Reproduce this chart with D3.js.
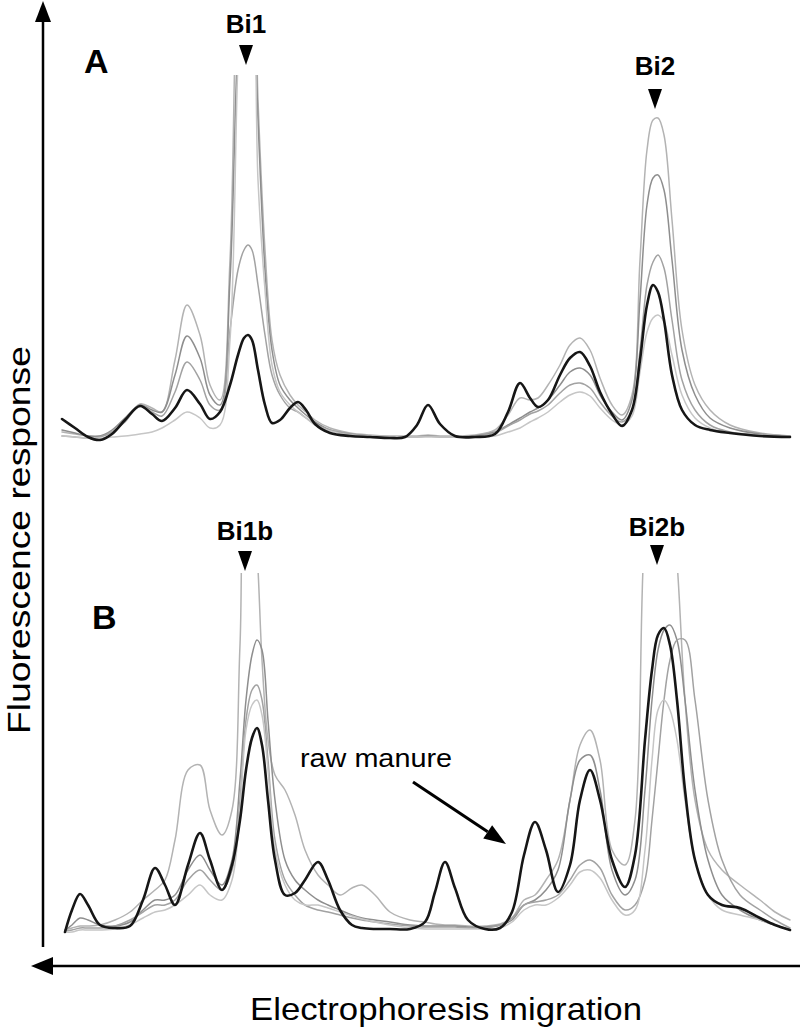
<!DOCTYPE html>
<html lang="en">
<head>
<meta charset="UTF-8">
<title>Electropherograms</title>
<script src="https://d3js.org/d3.v7.min.js" charset="utf-8"></script>
<style>
  body { margin: 0; background: #fff; }
  svg text { font-family: "Liberation Sans", Arial, sans-serif; fill: #000; }
  .trace { fill: none; stroke-linejoin: round; stroke-linecap: round; }
</style>
</head>
<body>
<svg id="chart" width="800" height="1029"></svg>
<script>
// ---- data (migration index / fluorescence, arbitrary units) ----
var xA = [0, 13, 26, 38, 50, 63, 78, 90, 100, 113, 125, 138, 148, 158, 168, 176, 182, 186, 190, 196,
  203, 210, 218, 228, 236, 244, 253, 268, 288, 308, 328, 343, 355, 366, 378, 393, 413, 433, 446, 458,
  468, 476, 486, 498, 508, 518, 528, 538, 550, 560, 570, 578, 585, 591, 596, 602, 610, 620, 633, 648,
  668, 698, 728];
var aBlack = [21, 12, 3, 0, 6, 20, 34, 26, 19, 32, 50, 36, 21, 28, 55, 85, 102, 105, 100, 70,
  35, 17, 20, 32, 38, 30, 16, 7, 4, 3, 2, 3, 15, 35, 16, 4, 3, 6, 28, 57,
  42, 33, 40, 65, 82, 88, 74, 48, 26, 14, 30, 80, 135, 155, 148, 120, 65, 30, 15, 10,
  7, 4, 3];
var aGray1 = [8, 6, 4, 4, 8, 20, 36, 32, 28, 80, 135, 105, 55, 40, 180, 480, 530, 520, 530, 340,
  190, 100, 65, 45, 35, 28, 20, 12, 7, 5, 4, 4, 4, 5, 4, 4, 5, 10, 25, 42,
  40, 42, 55, 75, 95, 102, 90, 62, 35, 25, 45, 180, 290, 320, 322, 305, 220, 110, 55, 30,
  15, 7, 4];
var aGray2 = [10, 7, 4, 4, 10, 22, 35, 30, 28, 65, 104, 82, 45, 35, 160, 400, 470, 450, 470, 320,
  170, 90, 55, 40, 32, 25, 18, 10, 6, 4, 3, 3, 3, 4, 3, 3, 4, 8, 15, 22,
  28, 32, 40, 55, 68, 72, 65, 45, 28, 20, 40, 140, 235, 262, 265, 250, 180, 90, 45, 22,
  12, 6, 4];
var aGray3 = [4, 3, 2, 3, 8, 18, 35, 28, 24, 48, 78, 60, 35, 30, 110, 170, 190, 195, 190, 155,
  105, 65, 45, 32, 28, 22, 16, 10, 6, 4, 3, 3, 3, 4, 3, 3, 4, 7, 14, 20,
  26, 29, 35, 47, 55, 57, 52, 38, 24, 18, 30, 90, 155, 178, 185, 172, 120, 60, 30, 15,
  8, 5, 4];
var aGray4 = [4, 3, 2, 2, 3, 4, 6, 8, 12, 20, 28, 22, 12, 15, 100, 380, 500, 480, 470, 260,
  150, 75, 48, 35, 28, 22, 15, 9, 5, 4, 3, 3, 3, 3, 3, 3, 3, 4, 8, 12,
  18, 22, 28, 38, 45, 48, 44, 32, 20, 15, 24, 68, 108, 122, 125, 118, 85, 45, 22, 12,
  7, 5, 4];

var xB = [3, 10, 18, 26, 38, 53, 68, 81, 93, 103, 113, 126, 138, 148, 160, 170, 178, 184, 190, 195,
  200, 206, 213, 223, 233, 243, 256, 266, 278, 290, 300, 313, 328, 348, 363, 373, 383, 393, 406, 423,
  438, 450, 462, 473, 484, 496, 508, 518, 528, 538, 550, 563, 573, 583, 590, 596, 602, 608, 615, 623,
  633, 646, 660, 678, 698, 713, 728];
var bBlack = [0, 22, 38, 27, 7, 4, 6, 32, 64, 47, 27, 67, 99, 72, 42, 67, 112, 162, 194, 204,
  187, 132, 72, 37, 39, 52, 70, 52, 22, 7, 4, 3, 3, 3, 10, 40, 70, 44, 12, 3,
  4, 20, 77, 110, 82, 40, 67, 132, 162, 132, 72, 45, 77, 192, 262, 297, 304, 287, 232, 142,
  72, 37, 27, 24, 14, 7, 2];
var bGray1 = [2, 4, 6, 6, 7, 12, 20, 32, 42, 52, 92, 162, 167, 122, 97, 122, 287, 440, 430, 380,
  272, 192, 157, 142, 117, 82, 57, 47, 37, 44, 47, 37, 20, 12, 10, 8, 7, 7, 6, 6,
  8, 14, 32, 37, 52, 72, 132, 187, 202, 172, 82, 67, 112, 400, 440, 460, 460, 440, 370, 232,
  132, 82, 62, 47, 32, 20, 12];
var bGray2 = [2, 7, 14, 12, 7, 6, 10, 22, 32, 32, 37, 62, 77, 62, 47, 72, 152, 232, 277, 292,
  282, 212, 132, 72, 52, 42, 32, 27, 22, 17, 14, 12, 10, 7, 6, 6, 6, 6, 5, 5,
  7, 12, 27, 32, 42, 62, 132, 172, 177, 142, 62, 37, 52, 142, 232, 282, 302, 307, 292, 232,
  142, 72, 37, 22, 12, 7, 2];
var bGray3 = [1, 2, 4, 4, 4, 6, 12, 20, 27, 27, 32, 52, 62, 52, 42, 62, 132, 212, 242, 247,
  232, 172, 92, 52, 37, 27, 22, 20, 17, 14, 12, 10, 8, 6, 5, 5, 5, 5, 4, 4,
  7, 14, 27, 30, 32, 37, 52, 67, 72, 64, 37, 22, 27, 52, 112, 172, 232, 272, 292, 292,
  232, 132, 72, 37, 22, 12, 4];
var bGray4 = [0, 0, 2, 2, 2, 3, 7, 14, 20, 22, 27, 37, 47, 37, 32, 52, 122, 202, 227, 232,
  217, 162, 82, 47, 32, 27, 27, 24, 20, 16, 13, 10, 7, 4, 3, 3, 3, 3, 3, 3,
  4, 10, 22, 27, 27, 34, 47, 60, 62, 54, 32, 17, 22, 82, 172, 222, 232, 222, 192, 132,
  72, 37, 22, 17, 12, 7, 2];

// peak labels: migration index, label, label baseline, marker top
var peaksA = [[184, "Bi1", 33, 45], [593, "Bi2", 75, 89]];
var peaksB = [[183, "Bi1b", 540, 551], [595, "Bi2b", 536, 545]];

var grayColors = ["#b3b3b3", "#8e8e8e", "#a2a2a2", "#c6c6c6"];

var svg = d3.select("#chart");

var x = d3.scaleLinear().domain([0, 728]).range([62, 790]);

var panels = [
  { id: "A", xs: xA, traces: [aGray1, aGray2, aGray3, aGray4, aBlack], base: 440, top: 75,
    peaks: peaksA, labelPos: [84, 73] },
  { id: "B", xs: xB, traces: [bGray1, bGray2, bGray3, bGray4, bBlack], base: 932, top: 573,
    peaks: peaksB, labelPos: [92, 629] }
];

panels.forEach(function(p) {
  var y = d3.scaleLinear().domain([0, p.base - p.top]).range([p.base, p.top]);

  svg.append("clipPath").attr("id", "clip" + p.id)
    .append("rect")
    .attr("x", 50).attr("y", p.top)
    .attr("width", 750).attr("height", p.base - p.top + 20);

  var line = d3.line()
    .x(function(d, i) { return x(p.xs[i]); })
    .y(function(d) { return y(d); })
    .curve(d3.curveCatmullRom.alpha(0.5));

  var g = svg.append("g").attr("clip-path", "url(#clip" + p.id + ")");
  p.traces.forEach(function(t, k) {
    var black = k === p.traces.length - 1;
    g.append("path")
      .attr("class", "trace")
      .attr("d", line(t))
      .attr("stroke", black ? "#161616" : grayColors[k])
      .attr("stroke-width", black ? 2.6 : 1.5);
  });

  // panel letter
  svg.append("text")
    .attr("x", p.labelPos[0]).attr("y", p.labelPos[1])
    .attr("font-size", 34).attr("font-weight", "bold")
    .text(p.id);

  // peak markers
  p.peaks.forEach(function(pk) {
    var cx = x(pk[0]);
    svg.append("text")
      .attr("x", cx).attr("y", pk[2])
      .attr("text-anchor", "middle")
      .attr("font-size", 26).attr("font-weight", "bold")
      .text(pk[1]);
    svg.append("path")
      .attr("d", "M" + (cx - 7) + "," + pk[3] + "L" + (cx + 7) + "," + pk[3] + "L" + cx + "," + (pk[3] + 20) + "Z")
      .attr("fill", "#000");
  });
});

// axes arrows
svg.append("line").attr("x1", 43).attr("y1", 947).attr("x2", 43).attr("y2", 18)
  .attr("stroke", "#000").attr("stroke-width", 2.5);
svg.append("path").attr("d", "M43,1L35,22L51,22Z").attr("fill", "#000");

svg.append("line").attr("x1", 800).attr("y1", 966).attr("x2", 50).attr("y2", 966)
  .attr("stroke", "#000").attr("stroke-width", 2.5);
svg.append("path").attr("d", "M31,966L53,957L53,975Z").attr("fill", "#000");

// axis titles
svg.append("text")
  .attr("x", 446).attr("y", 1020)
  .attr("text-anchor", "middle")
  .attr("font-size", 32)
  .attr("textLength", 392).attr("lengthAdjust", "spacingAndGlyphs")
  .text("Electrophoresis migration");

svg.append("text")
  .attr("transform", "translate(30,540) rotate(-90)")
  .attr("text-anchor", "middle")
  .attr("font-size", 32)
  .attr("textLength", 388).attr("lengthAdjust", "spacingAndGlyphs")
  .text("Fluorescence  response");

// raw manure annotation
svg.append("text")
  .attr("x", 300).attr("y", 767)
  .attr("font-size", 26)
  .attr("textLength", 152).attr("lengthAdjust", "spacingAndGlyphs")
  .text("raw manure");

var a0 = [413, 782], a1 = [506, 844];
var ang = Math.atan2(a1[1] - a0[1], a1[0] - a0[0]);
var hl = 22, hw = 8;
var bx = a1[0] - hl * Math.cos(ang), by = a1[1] - hl * Math.sin(ang);
svg.append("line").attr("x1", a0[0]).attr("y1", a0[1]).attr("x2", bx).attr("y2", by)
  .attr("stroke", "#000").attr("stroke-width", 3);
svg.append("path")
  .attr("d", "M" + a1[0] + "," + a1[1] +
    "L" + (bx + hw * Math.sin(ang)) + "," + (by - hw * Math.cos(ang)) +
    "L" + (bx - hw * Math.sin(ang)) + "," + (by + hw * Math.cos(ang)) + "Z")
  .attr("fill", "#000");
</script>
</body>
</html>
